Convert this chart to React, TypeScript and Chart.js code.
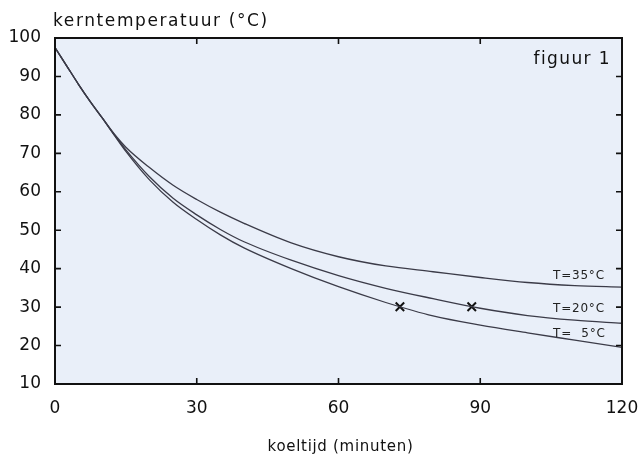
import { useEffect, useRef } from 'react';
import { Chart, registerables } from 'chart.js';

Chart.register(...registerables);

const minutes = [0, 2.5, 5, 7.5, 10, 12.5, 15, 20, 25, 30, 35, 40, 50, 60, 70, 80, 90, 100, 110, 120];
const temp5 = [97.5, 92.7, 87.9, 83.4, 79.2, 74.8, 70.5, 63.1, 57.3, 52.8, 48.8, 45.4, 40.0, 35.3, 31.2, 27.7, 25.3, 23.3, 21.4, 19.5];
const temp20 = [97.5, 92.7, 87.9, 83.4, 79.2, 74.9, 70.9, 63.9, 58.3, 54.0, 50.2, 47.0, 42.2, 38.2, 34.9, 32.2, 29.7, 27.8, 26.6, 25.8];
const temp35 = [97.5, 92.7, 87.9, 83.4, 79.2, 75.1, 71.6, 66.3, 61.7, 58.0, 54.7, 51.8, 46.7, 43.1, 40.7, 39.2, 37.7, 36.4, 35.6, 35.2];
const markerX = [73, 88.2];
const markerY = [30.1, 30.1];
const seriesLabels = ['T=35°C', 'T=20°C', 'T=  5°C'];
const labelX = [105.4, 105.4, 105.4];
const labelY = [37.3, 28.7, 22.2];
const yTicks = [10, 20, 30, 40, 50, 60, 70, 80, 90, 100];
const xTicks = [0, 30, 60, 90, 120];

const FONT = '"DejaVu Sans", sans-serif';
const LINE = '#3b3b48';

function text(ctx: any, s: string, x: number, y: number, spacing: number) {
  ctx.letterSpacing = `${spacing}px`;
  ctx.fillText(s, x, y);
  ctx.letterSpacing = '0px';
}

const framePlugin = {
  id: 'frame',
  beforeDatasetsDraw(chart: any) {
    const { ctx, chartArea: a } = chart;
    ctx.save();
    ctx.fillStyle = '#e9eff9';
    ctx.fillRect(a.left, a.top, a.right - a.left, a.bottom - a.top);
    ctx.restore();
  },
  afterDraw(chart: any) {
    const { ctx, chartArea: a, scales } = chart;
    const xs = scales.x;
    const ys = scales.y;
    ctx.save();
    ctx.strokeStyle = '#111';
    ctx.lineWidth = 2;
    ctx.strokeRect(a.left, a.top, a.right - a.left, a.bottom - a.top);
    ctx.lineWidth = 1.6;
    const L = 6;
    ctx.beginPath();
    yTicks.slice(1, -1).forEach((v) => {
      const y = ys.getPixelForValue(v);
      ctx.moveTo(a.left, y);
      ctx.lineTo(a.left + L, y);
      ctx.moveTo(a.right, y);
      ctx.lineTo(a.right - L, y);
    });
    xTicks.slice(1, -1).forEach((v) => {
      const x = xs.getPixelForValue(v);
      ctx.moveTo(x, a.bottom);
      ctx.lineTo(x, a.bottom - L);
      ctx.moveTo(x, a.top);
      ctx.lineTo(x, a.top + L);
    });
    ctx.stroke();

    ctx.fillStyle = '#111';
    ctx.textBaseline = 'alphabetic';
    ctx.font = `17px ${FONT}`;
    ctx.textAlign = 'left';
    text(ctx, 'kerntemperatuur (°C)', a.left - 2, 26, 1.6);
    ctx.textAlign = 'right';
    text(ctx, 'figuur 1', a.right - 11, 64, 1.4);
    ctx.font = `15px ${FONT}`;
    ctx.textAlign = 'center';
    text(ctx, 'koeltijd (minuten)', (a.left + a.right) / 2 + 2, 451, 0.7);

    ctx.font = `12px ${FONT}`;
    ctx.textAlign = 'left';
    ctx.fillStyle = '#222';
    seriesLabels.forEach((s, i) => {
      text(ctx, s, xs.getPixelForValue(labelX[i]), ys.getPixelForValue(labelY[i]), 0.8);
    });
    ctx.restore();
  },
};

export default function App() {
  const ref = useRef<HTMLCanvasElement | null>(null);
  useEffect(() => {
    if (!ref.current) return;
    const mk = (vals: number[]) => minutes.map((m, i) => ({ x: m, y: vals[i] }));
    const lineDs = (vals: number[]) => ({
      type: 'line' as const,
      data: mk(vals),
      borderColor: LINE,
      borderWidth: 1.3,
      pointRadius: 0,
      fill: false,
      cubicInterpolationMode: 'monotone' as const,
    });
    const chart = new Chart(ref.current, {
      type: 'line',
      data: {
        datasets: [
          lineDs(temp35),
          lineDs(temp20),
          lineDs(temp5),
          {
            type: 'scatter',
            data: markerX.map((x, i) => ({ x, y: markerY[i] })),
            pointStyle: 'crossRot',
            pointRadius: 6,
            borderColor: '#111',
            borderWidth: 2,
            backgroundColor: '#111',
          } as any,
        ],
      },
      options: {
        animation: false,
        responsive: false,
        maintainAspectRatio: false,
        layout: { padding: { left: 0, top: 38, right: 22, bottom: 0 } },
        plugins: { legend: { display: false }, tooltip: { enabled: false }, title: { display: false } },
        scales: {
          x: {
            type: 'linear',
            min: 0,
            max: 120,
            afterBuildTicks: (s: any) => {
              s.ticks = xTicks.map((v) => ({ value: v }));
            },
            afterFit: (s: any) => {
              s.height = 72;
              s.paddingLeft = 0;
              s.paddingRight = 0;
            },
            grid: { display: false, drawTicks: false },
            border: { display: false },
            ticks: { color: '#111', font: { family: FONT, size: 17 }, padding: 14, maxRotation: 0 },
          },
          y: {
            type: 'linear',
            min: 10,
            max: 100,
            afterBuildTicks: (s: any) => {
              s.ticks = yTicks.map((v) => ({ value: v }));
            },
            afterFit: (s: any) => {
              s.width = 55;
              s.paddingTop = 0;
              s.paddingBottom = 0;
            },
            grid: { display: false, drawTicks: false },
            border: { display: false },
            ticks: { color: '#111', font: { family: FONT, size: 17 }, padding: 14 },
          },
        },
      },
      plugins: [framePlugin],
    });
    return () => chart.destroy();
  }, []);
  return (
    <div style={{ position: 'fixed', left: 0, top: 0, width: 644, height: 456, background: '#fff' }}>
      <canvas ref={ref} width={644} height={456} style={{ display: 'block', width: 644, height: 456 }} />
    </div>
  );
}
